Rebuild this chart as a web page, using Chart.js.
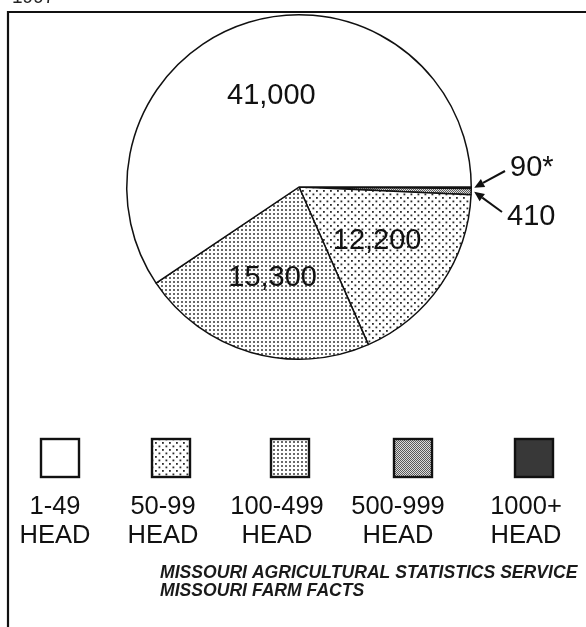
<!DOCTYPE html>
<html>
<head>
<meta charset="utf-8">
<script src="https://cdn.jsdelivr.net/npm/chart.js@4/dist/chart.umd.min.js"></script>
<style>
  html, body { margin: 0; padding: 0; background: #fff; }
  #wrap { position: relative; width: 586px; height: 627px; overflow: hidden; }
  canvas { display: block; }
</style>
</head>
<body>
<div id="wrap"><canvas id="c" width="586" height="627"></canvas></div>
<script>
// Hog farms by herd size, 1997 (number of operations)
const sizeClasses = ['1000+', '500-999', '50-99', '100-499', '1-49'];
const farmCounts  = [90, 410, 12200, 15300, 41000];
const valueLabels = ['90*', '410', '12,200', '15,300', '41,000'];
const legendOrder = ['1-49', '50-99', '100-499', '500-999', '1000+'];
const unitWord    = 'HEAD';
const yearLabel   = '1997';
const sourceLines = ['MISSOURI AGRICULTURAL STATISTICS SERVICE', 'MISSOURI FARM FACTS'];

const FONT = '"Liberation Sans", Arial, Helvetica, sans-serif';

// Print-style screen fills for each herd-size class
function makeTile(w, h, paint) {
  const c = document.createElement('canvas');
  c.width = w; c.height = h;
  const g = c.getContext('2d');
  paint(g);
  return document.getElementById('c').getContext('2d').createPattern(c, 'repeat');
}
const fills = {
  '1-49': '#ffffff',
  '50-99': makeTile(7, 7, g => {
    g.fillStyle = '#fff'; g.fillRect(0, 0, 7, 7);
    g.fillStyle = '#2a2a2a';
    g.fillRect(1, 1, 1.8, 1.8);
    g.fillRect(4.5, 4.5, 1.8, 1.8);
  }),
  '100-499': makeTile(4, 4, g => {
    g.fillStyle = '#fff'; g.fillRect(0, 0, 4, 4);
    g.fillStyle = '#6a6a6a';
    g.fillRect(1, 1, 2, 2);
  }),
  '500-999': makeTile(2, 2, g => {
    g.fillStyle = '#dcdcdc'; g.fillRect(0, 0, 2, 2);
    g.fillStyle = '#5a5a5a';
    g.fillRect(0, 0, 1, 1); g.fillRect(1, 1, 1, 1);
  }),
  '1000+': '#383838'
};

// White page, frame lines and the (clipped) year heading
const framePlugin = {
  id: 'frame',
  beforeDraw(chart) {
    const g = chart.ctx;
    g.save();
    g.fillStyle = '#fff';
    g.fillRect(0, 0, chart.width, chart.height);
    g.strokeStyle = '#111';
    g.lineWidth = 2.2;
    g.beginPath();
    g.moveTo(chart.width, 12);
    g.lineTo(8, 12);
    g.lineTo(8, chart.height);
    g.stroke();
    g.fillStyle = '#222';
    g.font = '19px ' + FONT;
    g.textBaseline = 'alphabetic';
    g.fillText(yearLabel, 12, 3);
    g.restore();
  }
};

// Value labels: inside large slices, arrow callouts for thin ones
const sliceLabelPlugin = {
  id: 'sliceLabels',
  afterDatasetsDraw(chart, args, opts) {
    const g = chart.ctx;
    const arcs = chart.getDatasetMeta(0).data;
    g.save();
    g.fillStyle = '#111';
    g.strokeStyle = '#111';
    g.font = '29px ' + FONT;
    let calloutIdx = 0;
    arcs.forEach((arc, i) => {
      const p = arc.getProps(['x', 'y', 'startAngle', 'endAngle', 'outerRadius']);
      const mid = (p.startAngle + p.endAngle) / 2;
      const span = p.endAngle - p.startAngle;
      if (span > 0.2) {
        const r = p.outerRadius * opts.insideFraction;
        g.textAlign = 'center';
        g.textBaseline = 'middle';
        g.fillText(valueLabels[i], p.x + Math.cos(mid) * r, p.y + Math.sin(mid) * r);
      } else {
        const spot = opts.callouts[calloutIdx++];
        const tipR = p.outerRadius + 3;
        const tx = p.x + Math.cos(mid) * tipR;
        const ty = p.y + Math.sin(mid) * tipR;
        const sx = spot.x - 5, sy = spot.y + spot.tail;
        const ang = Math.atan2(ty - sy, tx - sx);
        const head = 10, half = 4.5;
        const bx = tx - Math.cos(ang) * head, by = ty - Math.sin(ang) * head;
        g.lineWidth = 2;
        g.beginPath();
        g.moveTo(sx, sy);
        g.lineTo(bx, by);
        g.stroke();
        g.beginPath();
        g.moveTo(tx, ty);
        g.lineTo(bx - Math.sin(ang) * half, by + Math.cos(ang) * half);
        g.lineTo(bx + Math.sin(ang) * half, by - Math.cos(ang) * half);
        g.closePath();
        g.fill();
        g.textAlign = 'left';
        g.textBaseline = 'middle';
        g.fillText(valueLabels[i], spot.x, spot.y);
      }
    });
    g.restore();
  }
};

// Swatch row with two-line class labels, and the source note
const legendRowPlugin = {
  id: 'legendRow',
  afterDraw(chart, args, opts) {
    const g = chart.ctx;
    const ds = chart.data.datasets[0];
    g.save();
    legendOrder.forEach((name, k) => {
      const idx = chart.data.labels.indexOf(name);
      const cx = opts.centers[k];
      const s = opts.box;
      g.fillStyle = ds.backgroundColor[idx];
      g.fillRect(cx - s / 2, opts.top, s, s);
      g.strokeStyle = '#111';
      g.lineWidth = 2.4;
      g.strokeRect(cx - s / 2, opts.top, s, s);
      g.fillStyle = '#111';
      g.font = opts.fontSize + 'px ' + FONT;
      g.textAlign = 'center';
      g.textBaseline = 'alphabetic';
      g.fillText(name, opts.textCenters[k], opts.line1);
      g.fillText(unitWord, opts.textCenters[k], opts.line2);
    });
    g.font = 'italic bold 17.6px ' + FONT;
    g.textAlign = 'left';
    g.fillStyle = '#1a1a1a';
    sourceLines.forEach((t, j) => g.fillText(t, 160, 578 + j * 18));
    g.restore();
  }
};

const chart = new Chart(document.getElementById('c'), {
  type: 'pie',
  data: {
    labels: sizeClasses,
    datasets: [{
      data: farmCounts,
      backgroundColor: sizeClasses.map(s => fills[s]),
      borderColor: '#111',
      borderWidth: 1.5
    }]
  },
  options: {
    responsive: false,
    animation: false,
    events: [],
    rotation: 90,
    layout: { padding: { left: 126, top: 14, right: 114, bottom: 267 } },
    plugins: {
      legend: { display: false },
      tooltip: { enabled: false },
      sliceLabels: {
        insideFraction: 0.55,
        callouts: [
          { x: 510, y: 168, tail: 3 },
          { x: 507, y: 217, tail: -5 }
        ]
      },
      legendRow: {
        centers: [60, 171, 290, 413, 534],
        textCenters: [55, 163, 277, 398, 526],
        top: 439,
        box: 38,
        fontSize: 25.5,
        line1: 514,
        line2: 543
      }
    }
  },
  plugins: [framePlugin, sliceLabelPlugin, legendRowPlugin]
});
</script>
</body>
</html>
